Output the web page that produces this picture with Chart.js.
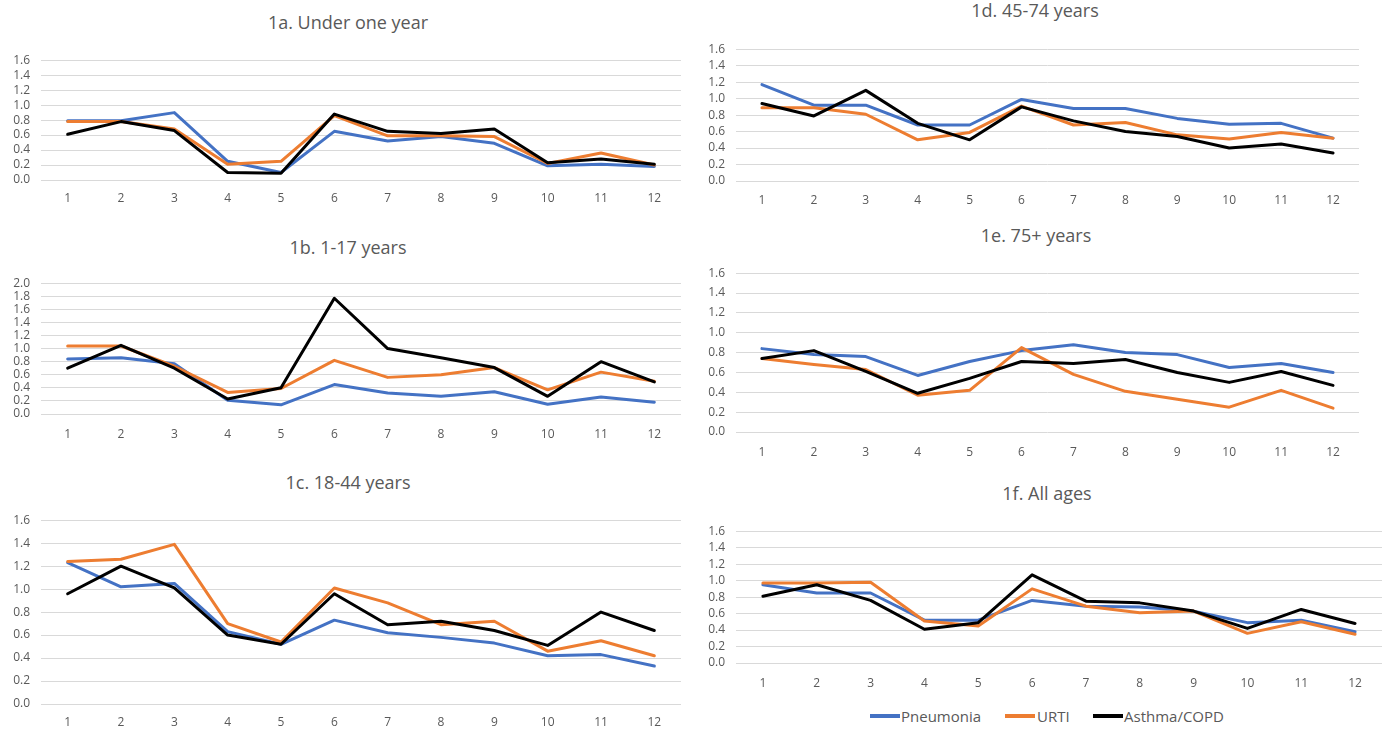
<!DOCTYPE html>
<html>
<head>
<meta charset="utf-8">
<script src="https://cdn.jsdelivr.net/npm/chart.js@4.4.0/dist/chart.umd.min.js"></script>
<style>
body{margin:0;background:#fff;width:1391px;height:731px;overflow:hidden;position:relative;font-family:'Open Sans',sans-serif}
canvas{position:absolute}
.ttl{position:absolute;color:#595959;font-size:18px;transform:translate(-50%,-50%);white-space:nowrap}
.lgl{position:absolute;top:714px;width:30px;height:4px}
.lgt{position:absolute;top:716px;transform:translateY(-50%);color:#595959;font-size:15px;white-space:nowrap}
</style>
</head>
<body>
<canvas id="c1a" width="690" height="168" style="left:0;top:42px"></canvas>
<canvas id="c1b" width="690" height="179" style="left:0;top:265px"></canvas>
<canvas id="c1c" width="690" height="229" style="left:0;top:502px"></canvas>
<canvas id="c1d" width="673" height="180" style="left:695px;top:31px"></canvas>
<canvas id="c1e" width="673" height="207" style="left:695px;top:255px"></canvas>
<canvas id="c1f" width="696" height="180" style="left:695px;top:513px"></canvas>

<div class="ttl" style="left:348px;top:22px">1a. Under one year</div>
<div class="ttl" style="left:348px;top:247px">1b. 1-17 years</div>
<div class="ttl" style="left:348px;top:482px">1c. 18-44 years</div>
<div class="ttl" style="left:1035px;top:10px">1d. 45-74 years</div>
<div class="ttl" style="left:1036px;top:235px">1e. 75+ years</div>
<div class="ttl" style="left:1047px;top:493px">1f. All ages</div>

<div class="lgl" style="left:870px;background:#4472C4"></div><span class="lgt" style="left:901px">Pneumonia</span>
<div class="lgl" style="left:1005px;background:#ED7D31"></div><span class="lgt" style="left:1037px">URTI</span>
<div class="lgl" style="left:1093px;background:#000"></div><span class="lgt" style="left:1124px">Asthma/COPD</span>

<script>
var months = ['1','2','3','4','5','6','7','8','9','10','11','12'];

// 1a. Under one year
var pneuUnder1 = [0.79, 0.79, 0.90, 0.25, 0.10, 0.65, 0.52, 0.58, 0.49, 0.19, 0.21, 0.18];
var urtiUnder1 = [0.78, 0.78, 0.68, 0.21, 0.25, 0.86, 0.59, 0.59, 0.58, 0.22, 0.36, 0.20];
var asthUnder1 = [0.61, 0.78, 0.66, 0.10, 0.09, 0.88, 0.65, 0.62, 0.68, 0.23, 0.28, 0.21];
// 1b. 1-17 years
var pneu1to17 = [0.84, 0.86, 0.77, 0.21, 0.14, 0.45, 0.32, 0.27, 0.34, 0.15, 0.26, 0.18];
var urti1to17 = [1.04, 1.04, 0.73, 0.33, 0.39, 0.82, 0.56, 0.60, 0.71, 0.37, 0.64, 0.50];
var asth1to17 = [0.70, 1.05, 0.70, 0.23, 0.40, 1.77, 1.00, 0.86, 0.71, 0.27, 0.80, 0.49];
// 1c. 18-44 years
var pneu18to44 = [1.23, 1.02, 1.05, 0.63, 0.52, 0.73, 0.62, 0.58, 0.53, 0.42, 0.43, 0.33];
var urti18to44 = [1.24, 1.26, 1.39, 0.70, 0.54, 1.01, 0.88, 0.69, 0.72, 0.46, 0.55, 0.42];
var asth18to44 = [0.96, 1.20, 1.01, 0.60, 0.52, 0.96, 0.69, 0.72, 0.64, 0.51, 0.80, 0.64];
// 1d. 45-74 years
var pneu45to74 = [1.17, 0.92, 0.92, 0.68, 0.68, 0.99, 0.88, 0.88, 0.76, 0.69, 0.70, 0.52];
var urti45to74 = [0.89, 0.89, 0.81, 0.50, 0.59, 0.91, 0.68, 0.71, 0.56, 0.51, 0.59, 0.52];
var asth45to74 = [0.94, 0.79, 1.10, 0.70, 0.50, 0.90, 0.73, 0.60, 0.54, 0.40, 0.45, 0.34];
// 1e. 75+ years
var pneu75plus = [0.84, 0.78, 0.76, 0.57, 0.71, 0.82, 0.88, 0.80, 0.78, 0.65, 0.69, 0.60];
var urti75plus = [0.74, 0.68, 0.63, 0.37, 0.42, 0.85, 0.58, 0.41, 0.33, 0.25, 0.42, 0.24];
var asth75plus = [0.74, 0.82, 0.61, 0.39, 0.54, 0.71, 0.69, 0.73, 0.60, 0.50, 0.61, 0.47];
// 1f. All ages
var pneuAll = [0.95, 0.85, 0.85, 0.52, 0.52, 0.76, 0.69, 0.68, 0.63, 0.49, 0.52, 0.38];
var urtiAll = [0.97, 0.97, 0.98, 0.51, 0.45, 0.90, 0.69, 0.61, 0.63, 0.36, 0.50, 0.35];
var asthAll = [0.81, 0.95, 0.76, 0.41, 0.49, 1.07, 0.75, 0.73, 0.63, 0.42, 0.65, 0.48];

var COLORS = {pneu: '#4472C4', urti: '#ED7D31', asth: '#000000'};

Chart.defaults.font.family = "'Open Sans', sans-serif";
Chart.defaults.font.size = 12;
Chart.defaults.color = '#595959';

function line(label, data, col, ord) {
  return {
    label: label, data: data, borderColor: col, backgroundColor: col,
    borderWidth: 3, pointRadius: 0, tension: 0, order: ord,
    borderJoinStyle: 'round', borderCapStyle: 'round'
  };
}

function panel(id, p, u, a, yMax, xH, labelPad) {
  new Chart(document.getElementById(id), {
    type: 'line',
    data: { labels: months, datasets: [
      line('Pneumonia', p, COLORS.pneu, 3),
      line('URTI', u, COLORS.urti, 2),
      line('Asthma/COPD', a, COLORS.asth, 1)
    ]},
    options: {
      responsive: false, animation: false,
      layout: { padding: { top: 10, right: 9, left: 0, bottom: 0 } },
      plugins: { legend: { display: false }, tooltip: { enabled: false } },
      scales: {
        x: {
          offset: true,
          grid: { display: false, drawTicks: false },
          border: { display: false },
          ticks: { padding: labelPad, autoSkip: false, maxRotation: 0 },
          afterFit: function(s) { s.height = xH; }
        },
        y: {
          min: 0, max: yMax,
          grid: { color: '#d9d9d9', lineWidth: 1, drawTicks: false },
          border: { display: false },
          ticks: { stepSize: 0.2, autoSkip: false, maxTicksLimit: 20, padding: 11,
                   callback: function(v) { return v.toFixed(1); } },
          afterFit: function(s) { s.width = 41; }
        }
      }
    }
  });
}

panel('c1a', pneuUnder1, urtiUnder1, asthUnder1, 1.6, 30, 11);
panel('c1b', pneu1to17, urti1to17, asth1to17, 2.0, 30, 13);
panel('c1c', pneu18to44, urti18to44, asth18to44, 1.6, 27, 11);
panel('c1d', pneu45to74, urti45to74, asth45to74, 1.6, 30, 12);
panel('c1e', pneu75plus, urti75plus, asth75plus, 1.6, 30, 13);
panel('c1f', pneuAll, urtiAll, asthAll, 1.6, 30, 13);
</script>
</body>
</html>
